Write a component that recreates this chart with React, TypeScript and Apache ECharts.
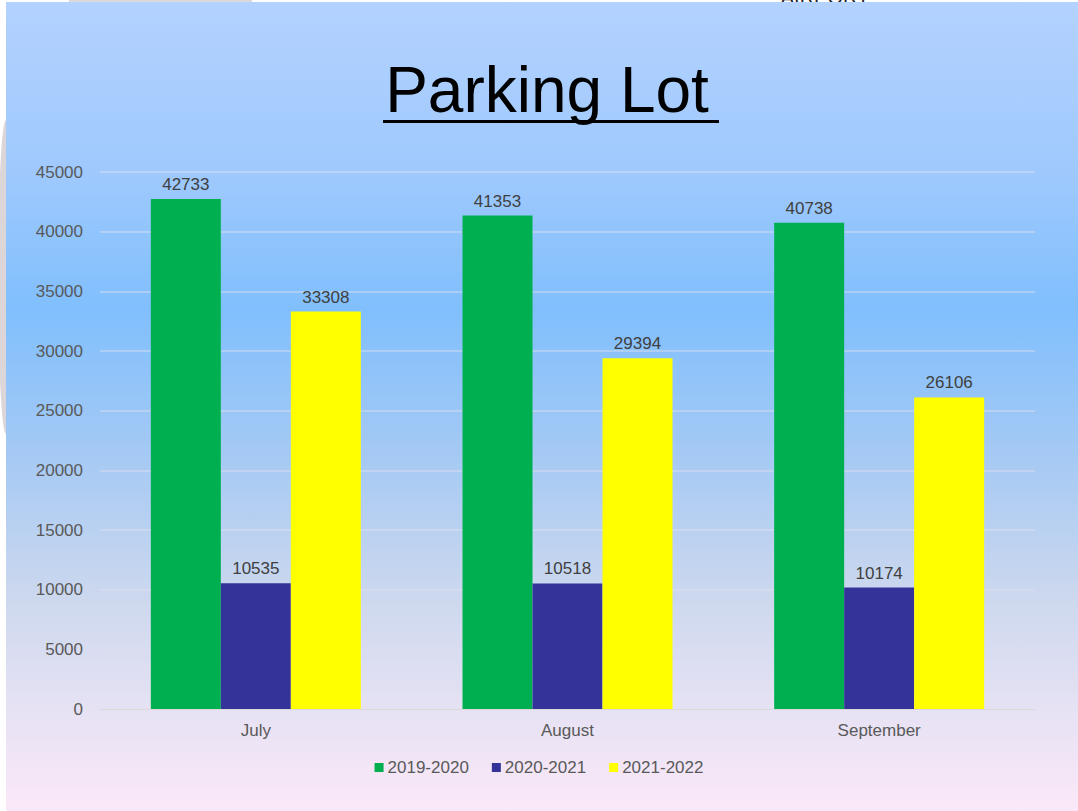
import React, { useEffect, useRef } from "react";
import * as echarts from "echarts";

const categories = ["July", "August", "September"];
const seriesNames = ["2019-2020", "2020-2021", "2021-2022"];
const values2019 = [42733, 41353, 40738];
const values2020 = [10535, 10518, 10174];
const values2021 = [33308, 29394, 26106];
const seriesColors = ["#00b050", "#333399", "#ffff00"];

const FONT = "'Liberation Sans', Arial, sans-serif";

export default function App() {
  const ref = useRef<HTMLDivElement>(null);
  useEffect(() => {
    if (!ref.current) return;
    const chart = echarts.init(ref.current, null, { renderer: "svg" });
    const data = [values2019, values2020, values2021];
    chart.setOption({
      animation: false,
      textStyle: { fontFamily: FONT },
      graphic: [
        {
          type: "text",
          z: -20,
          x: 825,
          y: -13,
          style: {
            text: "AIRPORT",
            font: `20px ${FONT}`,
            fill: "#222",
            textAlign: "center",
            textVerticalAlign: "top",
          },
        },
        {
          type: "rect",
          z: -20,
          shape: { x: 69, y: 0, width: 183, height: 4 },
          style: { fill: "#d9d9d9" },
        },
        {
          type: "ellipse",
          z: -20,
          shape: { cx: 6, cy: 277, rx: 8, ry: 157 },
          style: { fill: "#dcd6d9" },
        },
        {
          type: "rect",
          z: -10,
          shape: { x: 6, y: 2, width: 1072, height: 809 },
          style: {
            fill: new echarts.graphic.LinearGradient(0, 0, 0, 1, [
              { offset: 0, color: "#b3d2ff" },
              { offset: 0.21, color: "#9fc9fd" },
              { offset: 0.38, color: "#80bffd" },
              { offset: 0.555, color: "#a4c9f4" },
              { offset: 0.74, color: "#cdd8ee" },
              { offset: 0.875, color: "#e6e2f4" },
              { offset: 1, color: "#fbe8f8" },
            ]),
          },
        },
        {
          type: "text",
          z: 10,
          x: 547,
          y: 90,
          style: {
            text: "Parking Lot",
            font: `64px ${FONT}`,
            fill: "#000",
            textAlign: "center",
            textVerticalAlign: "middle",
          },
        },
        {
          type: "rect",
          z: 10,
          shape: { x: 383, y: 120, width: 336, height: 3 },
          style: { fill: "#000" },
        },
      ],
      grid: { left: 100, right: 43, top: 172, bottom: 102, containLabel: false },
      legend: {
        data: seriesNames,
        top: 754,
        left: "center",
        itemWidth: 9,
        itemHeight: 9,
        itemGap: 23,
        icon: "rect",
        textStyle: { color: "#595959", fontSize: 17, fontFamily: FONT, padding: [0, 0, 0, -1] },
      },
      xAxis: {
        type: "category",
        data: categories,
        axisTick: { show: false },
        axisLine: { lineStyle: { color: "#d9d9d9", width: 1 } },
        axisLabel: { color: "#595959", fontSize: 17, margin: 13, fontFamily: FONT },
      },
      yAxis: {
        type: "value",
        min: 0,
        max: 45000,
        interval: 5000,
        axisLine: { show: false },
        axisTick: { show: false },
        axisLabel: {
          color: "#595959",
          fontSize: 17,
          margin: 17,
          fontFamily: FONT,
          formatter: (v: number) => String(v),
        },
        splitLine: { lineStyle: { color: "rgba(225,228,238,0.55)", width: 1.5 } },
      },
      series: seriesNames.map((name, i) => ({
        name,
        type: "bar",
        data: data[i],
        barWidth: 70,
        barGap: "0%",
        itemStyle: { color: seriesColors[i] },
        label: {
          show: true,
          position: "top",
          distance: 6,
          color: "#404040",
          fontSize: 17,
          fontFamily: FONT,
        },
      })),
    });
    return () => chart.dispose();
  }, []);
  return (
    <div
      ref={ref}
      style={{ position: "absolute", left: 0, top: 0, width: 1078, height: 811 }}
    />
  );
}
